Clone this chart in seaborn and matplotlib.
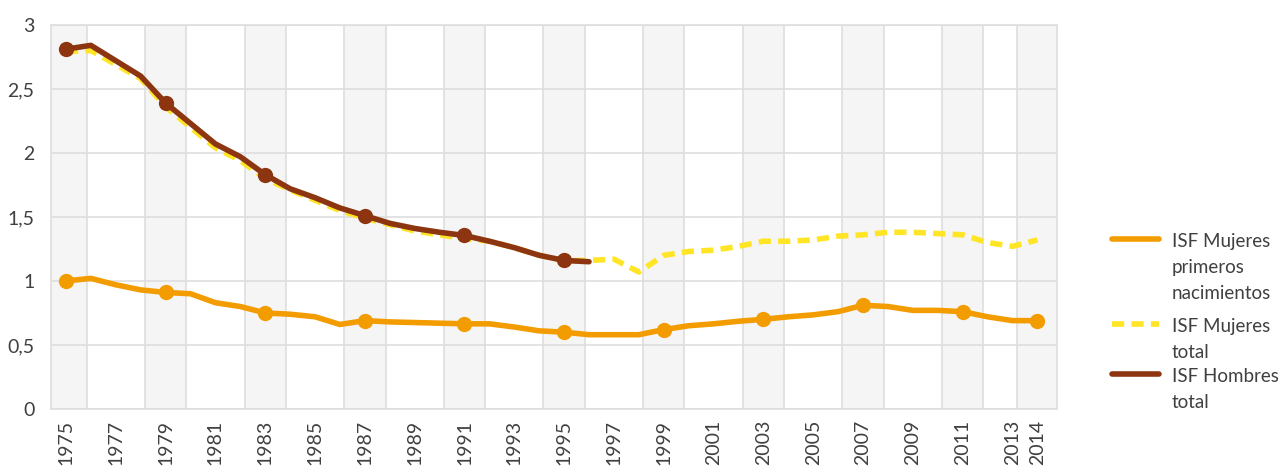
import numpy as np
import pandas as pd
import matplotlib
matplotlib.use("Agg")
import matplotlib.pyplot as plt
import seaborn as sns
from matplotlib.lines import Line2D

# --- DATOS ---
years = list(range(1975, 2015))

isf_mujeres_primeros = [
    1.00, 1.02, 0.97, 0.93, 0.91, 0.90, 0.83, 0.80, 0.75, 0.74,
    0.72, 0.66, 0.69, 0.68, 0.675, 0.67, 0.665, 0.665, 0.64, 0.61,
    0.60, 0.58, 0.58, 0.58, 0.62, 0.65, 0.665, 0.685, 0.70, 0.72,
    0.735, 0.76, 0.81, 0.80, 0.77, 0.77, 0.76, 0.72, 0.69, 0.69,
]
isf_mujeres_total = [
    2.79, 2.80, 2.69, 2.58, 2.36, 2.20, 2.04, 1.94, 1.80, 1.71,
    1.63, 1.55, 1.49, 1.44, 1.39, 1.36, 1.33, 1.31, 1.26, 1.20,
    1.16, 1.16, 1.17, 1.07, 1.20, 1.23, 1.24, 1.27, 1.31, 1.31,
    1.32, 1.35, 1.36, 1.38, 1.38, 1.37, 1.36, 1.30, 1.27, 1.32,
]
isf_hombres_total = [
    2.81, 2.84, 2.72, 2.60, 2.39, 2.23, 2.07, 1.97, 1.83, 1.72,
    1.65, 1.57, 1.51, 1.45, 1.41, 1.38, 1.355, 1.31, 1.26, 1.20,
    1.16, 1.15,
] + [np.nan] * 18

marker_years = [1975, 1979, 1983, 1987, 1991, 1995, 1999, 2003, 2007, 2011, 2014]
tick_years = list(range(1975, 2014, 2)) + [2014]
y_ticks = [0, 0.5, 1, 1.5, 2, 2.5, 3]
y_labels = ["0", "0,5", "1", "1,5", "2", "2,5", "3"]

labels = [["ISF Mujeres", "primeros", "nacimientos"],
          ["ISF Mujeres", "total"],
          ["ISF Hombres", "total"]]
colors = ["#F39C00", "#FFE526", "#8C3510"]

df = pd.DataFrame({
    "year": years,
    "primeros": isf_mujeres_primeros,
    "mujeres": isf_mujeres_total,
    "hombres": isf_hombres_total,
})

sns.set_theme(style="white")
plt.rcParams["font.family"] = ["Lato", "DejaVu Sans"]
text_color = "#404040"
dash = (0, (2.2, 1.3))

W, H = 1281, 469
fig = plt.figure(figsize=(W / 100, H / 100), dpi=100)
ax = fig.add_axes([0.0398, 0.128, 0.785, 0.819])

# --- FRANJAS Y CUADRICULA ---
half = 0.83
for y in marker_years:
    ax.axvspan(y - half, y + half, color="#F5F5F5", zorder=0, lw=0)
    for edge in (y - half, y + half):
        ax.axvline(edge, color="#DEDEDE", lw=1.2, zorder=0.5)
for v in y_ticks:
    ax.axhline(v, color="#DEDEDE", lw=1.2, zorder=0.5)

# --- SERIES ---
def idx(series):
    return [i for i, yr in enumerate(df["year"]) if yr in marker_years and not np.isnan(df[series][i])]

sns.lineplot(data=df, x="year", y="primeros", ax=ax, color=colors[0], lw=4,
             marker="o", markersize=11, markeredgewidth=0, markevery=idx("primeros"), zorder=3)
sns.lineplot(data=df, x="year", y="mujeres", ax=ax, color=colors[1], lw=4, zorder=3)
ax.lines[-1].set_linestyle(dash)
sns.lineplot(data=df.dropna(), x="year", y="hombres", ax=ax, color=colors[2], lw=4,
             marker="o", markersize=11, markeredgewidth=0, markevery=[0, 4, 8, 12, 16, 20], zorder=4)

ax.set_xlim(1974.4, 2014.77)
ax.set_ylim(0, 3)
ax.set_xticks(tick_years)
ax.set_xticklabels([str(t) for t in tick_years], rotation=90, fontsize=14, color=text_color)
ax.set_yticks(y_ticks)
ax.set_yticklabels(y_labels, fontsize=14, color=text_color)
ax.tick_params(axis="x", length=0, pad=8)
ax.tick_params(axis="y", length=0, pad=12)
ax.set_xlabel("")
ax.set_ylabel("")
for s in ax.spines.values():
    s.set_color("#DEDEDE")
    s.set_linewidth(1.2)

# --- LEYENDA (manual, muestra alineada con la primera linea) ---
first_baselines = [247, 332, 382]   # px desde arriba
pitch = 26
styles = ["-", dash, "-"]
for lines_txt, base, col, ls in zip(labels, first_baselines, colors, styles):
    yh = 1 - (base - 8) / H
    fig.add_artist(Line2D([1112 / W, 1159 / W], [yh, yh], color=col, lw=4,
                          linestyle=ls, transform=fig.transFigure))
    for k, txt in enumerate(lines_txt):
        fig.text(1172 / W, 1 - (base + k * pitch) / H, txt, fontsize=13.5,
                 color=text_color, va="baseline", ha="left")

fig.savefig("out.png", dpi=100)
